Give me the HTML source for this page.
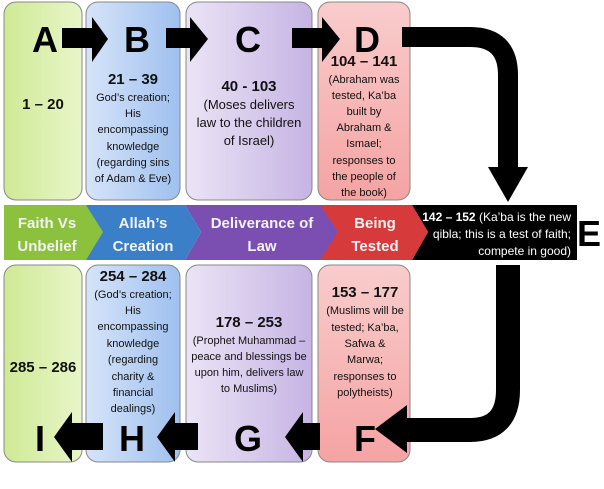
<!DOCTYPE html><html><head><style>body{margin:0;background:#fff}svg{display:block}</style></head><body>
<svg width="604" height="489" viewBox="0 0 604 489" xmlns="http://www.w3.org/2000/svg" font-family="'Liberation Sans Narrow','Liberation Sans',sans-serif">
<defs>
<linearGradient id="g" x1="0" y1="0" x2="1" y2="0"><stop offset="0" stop-color="#cfe995"/><stop offset="1" stop-color="#e9f6c9"/></linearGradient>
<linearGradient id="b" x1="0" y1="0" x2="1" y2="0"><stop offset="0" stop-color="#d6e4f9"/><stop offset="1" stop-color="#9fc0ef"/></linearGradient>
<linearGradient id="p" x1="0" y1="0" x2="1" y2="0"><stop offset="0" stop-color="#ebe4f6"/><stop offset="1" stop-color="#c6b4e4"/></linearGradient>
<linearGradient id="r" x1="0" y1="0" x2="0" y2="1"><stop offset="0" stop-color="#f9cccc"/><stop offset="1" stop-color="#f5a3a3"/></linearGradient>
</defs>
<g stroke="#888" stroke-width="1">
<rect x="4" y="2" width="78" height="198" rx="12" fill="url(#g)"/>
<rect x="86" y="2" width="94" height="198" rx="12" fill="url(#b)"/>
<rect x="186" y="2" width="126" height="198" rx="12" fill="url(#p)"/>
<rect x="318" y="2" width="92" height="198" rx="12" fill="url(#r)"/>
<rect x="4" y="265" width="78" height="197" rx="12" fill="url(#g)"/>
<rect x="86" y="265" width="94" height="197" rx="12" fill="url(#b)"/>
<rect x="186" y="265" width="126" height="197" rx="12" fill="url(#p)"/>
<rect x="318" y="265" width="92" height="197" rx="12" fill="url(#r)"/>
</g>
<!-- band -->
<polygon points="412,205 577,205 577,260 412,260 428,232" fill="#000"/>
<polygon points="319,205 412,205 428,232 412,260 319,260 335,232" fill="#d63a3a"/>
<polygon points="185,205 320,205 338,232 320,260 185,260 201,232" fill="#7b4fb2"/>
<polygon points="83,205 185,205 201,232 185,260 83,260 100,232" fill="#3b7fc9"/>
<polygon points="4,205 86,205 103,232 86,260 4,260" fill="#8cc13e"/>
<g fill="#f2f2f2" font-size="15" font-weight="bold" text-anchor="middle">
<text x="47" y="228">Faith Vs</text><text x="47" y="251">Unbelief</text>
<text x="143" y="228">Allah’s</text><text x="143" y="251">Creation</text>
<text x="262" y="228">Deliverance of</text><text x="262" y="251">Law</text>
<text x="375" y="228">Being</text><text x="375" y="251">Tested</text>
</g>
<g fill="#fff" font-size="12" text-anchor="end">
<text x="571" y="221"><tspan font-weight="bold">142 – 152</tspan> (Ka’ba is the new</text>
<text x="571" y="238">qibla; this is a test of faith;</text>
<text x="571" y="255">compete in good)</text>
</g>
<!-- big arrows -->
<path d="M402,37 H470 Q508,37 508,75 V172" fill="none" stroke="#000" stroke-width="20"/>
<polygon points="488,167 528,167 508,202" fill="#000"/>
<path d="M508,265 V390 Q508,430 470,430 H400" fill="none" stroke="#000" stroke-width="24"/>
<polygon points="407,405 407,453 375,429" fill="#000"/>
<!-- small arrows -->
<g fill="#000">
<polygon points="62,28 92,28 92,17 108,39 92,62 92,48 62,48"/>
<polygon points="166,28 190,28 190,17 208,39 190,62 190,48 166,48"/>
<polygon points="292,28 322,28 322,17 340,39 322,62 322,48 292,48"/>
<polygon points="103,423 72,423 72,412 54,437 72,462 72,450 103,450"/>
<polygon points="198,423 175,423 175,412 157,437 175,462 175,450 198,450"/>
<polygon points="320,423 303,423 303,412 285,437 303,462 303,450 320,450"/>
</g>
<g font-size="36" font-weight="bold" text-anchor="middle" fill="#000">
<text x="45" y="52">A</text><text x="137" y="52">B</text><text x="248" y="52">C</text><text x="367" y="52">D</text>
<text x="589" y="246">E</text>
<text x="40" y="451">I</text><text x="132" y="451">H</text><text x="248" y="451">G</text><text x="365" y="451">F</text>
</g>
<g text-anchor="middle" fill="#111">
<text x="43" y="109" font-size="15" font-weight="bold">1 – 20</text>
<text x="133" y="84" font-size="15" font-weight="bold">21 – 39</text>
<g font-size="11"><text x="133" y="101">God’s creation;</text><text x="133" y="117">His</text><text x="133" y="133">encompassing</text><text x="133" y="150">knowledge</text><text x="133" y="166">(regarding sins</text><text x="133" y="182">of Adam &amp; Eve)</text></g>
<text x="249" y="91" font-size="15" font-weight="bold">40 - 103</text>
<g font-size="13"><text x="249" y="109">(Moses delivers</text><text x="249" y="127">law to the children</text><text x="249" y="145">of Israel)</text></g>
<text x="364" y="66" font-size="15" font-weight="bold">104 – 141</text>
<g font-size="11"><text x="364" y="83">(Abraham was</text><text x="364" y="99">tested, Ka’ba</text><text x="364" y="115">built by</text><text x="364" y="131">Abraham &amp;</text><text x="364" y="147">Ismael;</text><text x="364" y="164">responses to</text><text x="364" y="180">the people of</text><text x="364" y="196">the book)</text></g>
<text x="43" y="372" font-size="15" font-weight="bold">285 – 286</text>
<text x="133" y="281" font-size="15" font-weight="bold">254 – 284</text>
<g font-size="11"><text x="133" y="298">(God’s creation;</text><text x="133" y="314">His</text><text x="133" y="330">encompassing</text><text x="133" y="347">knowledge</text><text x="133" y="363">(regarding</text><text x="133" y="380">charity &amp;</text><text x="133" y="396">financial</text><text x="133" y="412">dealings)</text></g>
<text x="249" y="327" font-size="15" font-weight="bold">178 – 253</text>
<g font-size="11"><text x="249" y="344">(Prophet Muhammad –</text><text x="249" y="360">peace and blessings be</text><text x="249" y="376">upon him, delivers law</text><text x="249" y="392">to Muslims)</text></g>
<text x="365" y="297" font-size="15" font-weight="bold">153 – 177</text>
<g font-size="11"><text x="365" y="314">(Muslims will be</text><text x="365" y="331">tested; Ka’ba,</text><text x="365" y="347">Safwa &amp;</text><text x="365" y="363">Marwa;</text><text x="365" y="380">responses to</text><text x="365" y="396">polytheists)</text></g>
</g>
</svg>
</body></html>
